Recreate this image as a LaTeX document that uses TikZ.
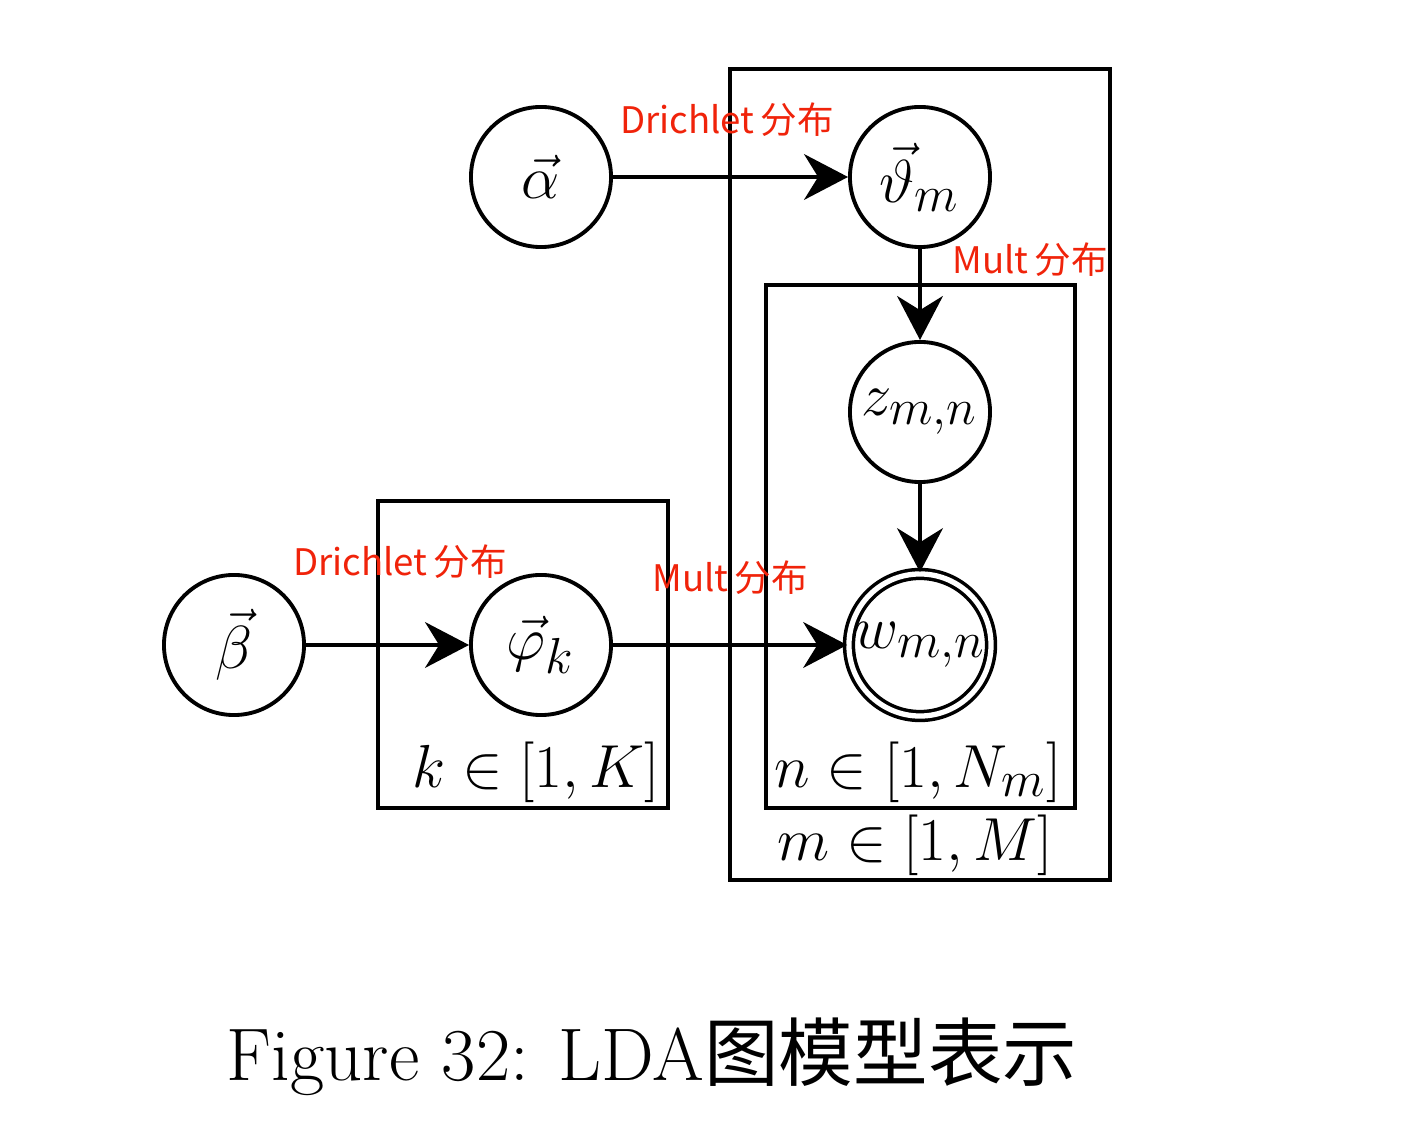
\documentclass[tikz,border=0pt]{standalone}
\usepackage{amsmath, amssymb}
\usepackage{fontspec}
\newfontfamily\cjk{Noto Sans CJK SC}
\usepackage{tikz}
\usetikzlibrary{calc,shapes,arrows.meta}
\definecolor{labred}{RGB}{240,35,10}

\tikzset{
    var/.style={circle, draw, line width=1.1pt, minimum size=1.40cm, inner sep=0pt,
        font=\fontsize{19}{21}\selectfont},
    obs/.style={var, double, line width=1pt, double distance=1.5pt, minimum size=1.42cm},
    plate/.style={draw, line width=1.1pt},
    edge/.style={-{Stealth[length=12.5pt,width=13pt,inset=4pt]}, line width=1.1pt},
    distlab/.style={text=labred, font=\cjk\fontsize{10.4}{12}\selectfont},
    platelab/.style={font=\fontsize{19}{21}\selectfont}
}

\begin{document}
\begin{tikzpicture}[x=0.01cm, y=-0.01cm]
        \useasboundingbox (0,0) rectangle (1408,1122);
        % plates
        \draw[plate] (730,69) rectangle (1110,880);
        \draw[plate] (766,285) rectangle (1075,808);
        \draw[plate] (378,501) rectangle (668,808);
        \node[platelab] (klab) at (536,772) {$k\in[1,K]$};
        \node[platelab] (nlab) at (918,772) {$n\in[1,N_m]$};
        \node[platelab] (mlab) at (915,845) {$m\in[1,M]$};
        % variables
        \node[var] (alpha) at (541,177) {$\vec{\alpha}$};
        \node[var] (theta) at (920,177) {$\vec{\vartheta}_m$};
        \node[var] (z) at (920,412) {$z_{m,n}$};
        \node[obs] (w) at (920,645) {$w_{m,n}$};
        \node[var] (beta) at (234,645) {$\vec{\beta}$};
        \node[var] (phi) at (541,645) {$\vec{\varphi}_k$};
        % edges
        \foreach \a/\b in {alpha/theta, theta/z, z/w, beta/phi, phi/w}
        \draw[edge] (\a) -- (\b);
        \node[distlab] (d1) at (727,120) {Drichlet\,分布};
        \node[distlab] (m1) at (1030,260) {Mult\,分布};
        \node[distlab] (d2) at (400,562) {Drichlet\,分布};
        \node[distlab] (m2) at (730,578) {Mult\,分布};
        % caption
        \node[font=\fontsize{21.2}{24}\selectfont] (cap) at (652,1057)
            {Figure 32: LDA{\cjk 图模型表示}};
    \end{tikzpicture}
\end{document}
